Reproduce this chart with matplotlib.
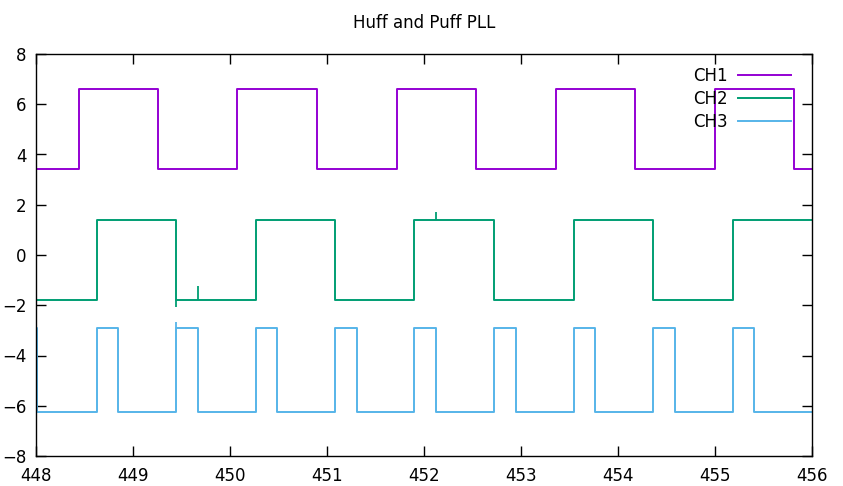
import numpy as np
import matplotlib
matplotlib.use("Agg")
from matplotlib import pyplot as plt

t_start = 448.0
t_end = 456.0

# edge times
ch1_edges = [448.443, 449.258, 450.072, 450.897, 451.722, 452.536,
             453.361, 454.175, 455.000, 455.814]
ch1_levels = [3.41, 6.61]          # start level, other level

ch2_edges = [448.626, 449.443, 450.265, 451.079, 451.900, 452.722,
             453.546, 454.364, 455.189]
ch2_levels = [-1.78, 1.40]

ch3_edges = [448.012, 448.626, 448.848, 449.443, 449.670, 450.265, 450.485,
             451.079, 451.306, 451.900, 452.124, 452.722, 452.948,
             453.546, 453.766, 454.364, 454.588, 455.189, 455.402]
ch3_levels = [-2.92, -6.23]

# short spikes (time, peak value)
ch2_glitches = [(449.443, -2.08), (449.670, -1.24), (452.124, 1.72)]
ch3_glitches = [(449.443, -2.68)]

names = ["CH1", "CH2", "CH3"]
colors = ["#9400d3", "#009e73", "#56b4e9"]


def level_at(t, edges, levels):
    n = sum(1 for e in edges if e <= t)
    return levels[n % 2]


def wave(edges, levels):
    xs = [t_start]
    ys = [levels[0]]
    state = 0
    for e in edges:
        xs.append(e)
        ys.append(levels[state])
        state = 1 - state
        xs.append(e)
        ys.append(levels[state])
    xs.append(t_end)
    ys.append(levels[state])
    return np.array(xs), np.array(ys)


fig = plt.figure(figsize=(8.43, 4.86), dpi=100)
ax = fig.add_axes([36 / 843, 1 - 456 / 486, 776 / 843, 402 / 486])

channels = [(ch1_edges, ch1_levels, []),
            (ch2_edges, ch2_levels, ch2_glitches),
            (ch3_edges, ch3_levels, ch3_glitches)]

for (edges, levels, glitches), name, c in zip(channels, names, colors):
    x, y = wave(edges, levels)
    ax.plot(x, y, color=c, lw=1.4, label=name)
    for t, v in glitches:
        ax.vlines(t, level_at(t, edges, levels), v, color=c, lw=1.3)

ax.set_xlim(t_start, t_end)
ax.set_ylim(-8, 8)
ax.set_xticks(np.arange(448, 457, 1))
ax.set_yticks(np.arange(-8, 9, 2))
ax.tick_params(direction="in", length=7, width=1, top=True, right=True,
               labelsize=12, colors="black")
ax.tick_params(axis="x", pad=8)
ax.tick_params(axis="y", pad=7)
for s in ax.spines.values():
    s.set_linewidth(1)

ax.set_title("Huff and Puff PLL", fontsize=12, pad=19)

ax.legend(loc="upper right", bbox_to_anchor=(0.973, 0.967), frameon=False,
          markerfirst=False, fontsize=12, handlelength=3.2,
          handletextpad=0.6, labelspacing=0.3, borderpad=0,
          borderaxespad=0)

fig.savefig("out.png", dpi=100)
